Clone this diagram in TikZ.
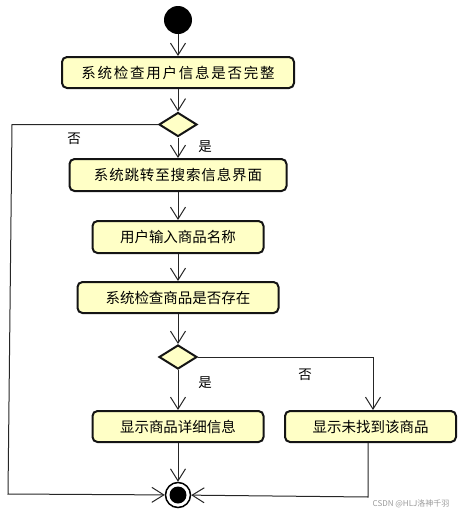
\documentclass[tikz,border=0pt]{standalone}
\usepackage{fontspec}
\newfontfamily\cjk{Noto Sans CJK SC}
\newfontfamily\cjkwide[LetterSpace=12]{Noto Sans CJK SC}
\newfontfamily\cjkmid[LetterSpace=6]{Noto Sans CJK SC}
\usetikzlibrary{arrows.meta,shapes.geometric}
\definecolor{actfill}{RGB}{255,255,198}
\definecolor{edgedark}{RGB}{20,20,20}
\tikzset{
  act/.style={draw=edgedark, line width=2pt, fill=actfill, rounded corners=5pt,
    inner sep=0pt, font=\cjk\fontsize{14.5}{16}\selectfont},
  dec/.style={diamond, draw=edgedark, line width=2pt, fill=actfill, inner sep=0pt,
    minimum width=38pt, minimum height=24pt},
  flow/.style={line width=1pt, draw=black!85,
    -{Straight Barb[length=12pt,width=15pt,line width=1pt]}},
  lbl/.style={font=\cjk\fontsize{13.5}{15}\selectfont, inner sep=0pt},
}
\begin{document}
\begin{tikzpicture}[x=1pt,y=-1pt]
\useasboundingbox (0,0) rectangle (461,515);
% nodes
\node[circle, fill=black, minimum size=28pt, inner sep=0pt] (start) at (178,20) {};
\node[act, minimum width=232pt, minimum height=31pt] (a1) at (178,72.5) {\cjkwide\fontsize{14.5}{16}\selectfont 系统检查用户信息是否完整};
\node[dec] (d1) at (178,124.5) {};
\node[act, minimum width=217pt, minimum height=32pt] (a2) at (178,175) {\cjkmid\fontsize{14.5}{16}\selectfont 系统跳转至搜索信息界面};
\node[act, minimum width=171pt, minimum height=32pt] (a3) at (178,237) {用户输入商品名称};
\node[act, minimum width=201pt, minimum height=31pt] (a4) at (178,297.5) {系统检查商品是否存在};
\node[dec] (d2) at (178,357) {};
\node[act, minimum width=171pt, minimum height=31pt] (a5) at (178,426.5) {显示商品详细信息};
\node[act, minimum width=171pt, minimum height=31pt] (a6) at (370.5,426.5) {显示未找到该商品};
\node[circle, draw=black, line width=1.5pt, fill=white, minimum size=25pt, inner sep=0pt] (end) at (178,495) {};
\node[circle, fill=black, minimum size=17pt, inner sep=0pt] (endin) at (end) {};
% helper coordinates
\coordinate (cl1) at (12,124.5);
\coordinate (cl2) at (8,494);
\coordinate (cr1) at (373,357);
\coordinate (cr2) at (368,497);
% connectors
\draw[flow] (start) -- (a1);
\draw[flow] (a1) -- (d1);
\draw[flow] (d1) -- (a2);
\draw[flow] (a2) -- (a3);
\draw[flow] (a3) -- (a4);
\draw[flow] (a4) -- (d2);
\draw[flow] (d2) -- (a5);
\draw[flow] (a5) -- (end);
\draw[flow] (d1.west) -- (cl1) -- (cl2) -- (end);
\draw[flow] (d2.east) -- (cr1) -- (cr1 |- a6.north);
\draw[flow] (a6.south -| cr2) -- (cr2) -- (end);
% labels
\node[lbl] (n1) at (74,139) {否};
\node[lbl] (y1) at (205,147) {是};
\node[lbl] (y2) at (205,383) {是};
\node[lbl] (n2) at (305,375) {否};
\node[font=\cjk\fontsize{8}{9}\selectfont, text=black!40, inner sep=0pt] (wm) at (411,504) {CSDN @HLJ洛神千羽};
\end{tikzpicture}
\end{document}
